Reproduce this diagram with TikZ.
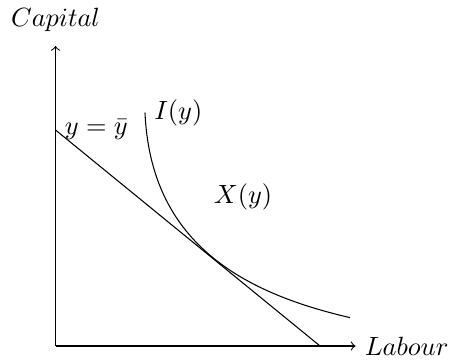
\documentclass[tikz,border=0pt]{standalone}
\usepackage{tikz}
\usetikzlibrary{positioning}
\begin{document}
\begin{tikzpicture}[
      axis/.style={->},
      isoline/.style={black},
      lbl/.style={inner sep=3.33pt}
    ]
      \useasboundingbox (-0.74,-0.2) rectangle (5.273,4.613);
      \coordinate (o) at (0,0);
      \coordinate (ytop) at (0,4);
      \coordinate (xend) at (4,0);
      \coordinate (k0) at (0,2.88);
      \coordinate (l0) at (3.527,0);
      \coordinate (i0) at (1.193,3.11);
      \coordinate (i1) at (3.927,0.378);

      % axes
      \draw[axis] (o) -- (ytop);
      \draw[axis] (o) -- (xend);
      \node[lbl,above=2pt of ytop] (cap) {$Capital$};
      \node[lbl,right=0pt of xend] (lab) {$Labour$};

      % isocost line and isoquant
      \draw[isoline] (k0) -- (l0);
      \node[lbl,right=0pt of k0] (iso) {$y=\bar{y}$};
      \draw[isoline] (i0) .. controls (1.27,1.4) and (2.45,0.72) .. (i1);
      \node[lbl,right=0pt of i0] (iq) {$I(y)$};
      \node[lbl] (xy) at (2.5,1.99) {$X(y)$};
\end{tikzpicture}
\end{document}
